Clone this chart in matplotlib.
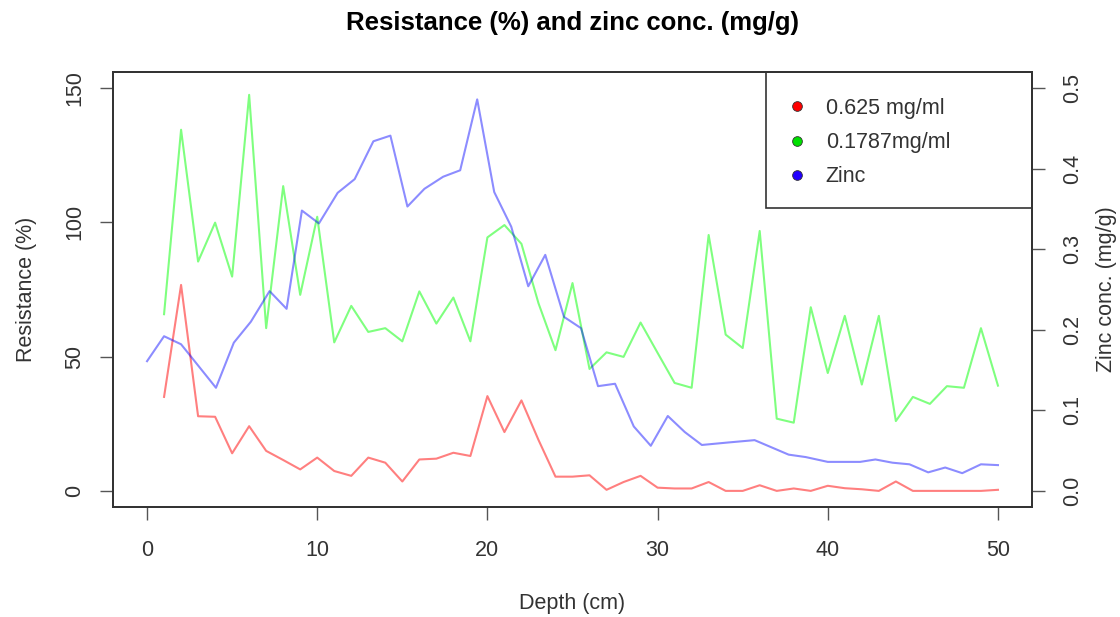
import matplotlib
matplotlib.use("Agg")
import matplotlib.pyplot as plt
from matplotlib.lines import Line2D
from matplotlib.patches import Rectangle

plt.rcParams['font.family'] = ['Liberation Sans', 'DejaVu Sans']

# ---- data ----
depth_res = list(range(1, 51))
res_0625 = [35.0, 76.7, 27.8, 27.6, 14.0, 24.1, 14.9, 11.5, 8.0, 12.4,
            7.4, 5.6, 12.4, 10.5, 3.5, 11.7, 12.0, 14.2, 13.0, 35.3,
            21.9, 33.7, 19.0, 5.3, 5.3, 5.8, 0.4, 3.3, 5.6, 1.2,
            0.9, 0.9, 3.3, 0.0, 0.0, 2.1, 0.0, 0.9, 0.0, 1.9,
            1.0, 0.6, 0.0, 3.5, 0.0, 0.0, 0.0, 0.0, 0.0, 0.4]
res_01787 = [65.8, 134.5, 85.4, 99.9, 79.8, 147.5, 60.6, 113.5, 73.0, 102.1,
             55.3, 68.9, 59.2, 60.6, 55.7, 74.3, 62.3, 72.0, 55.7, 94.4,
             99.0, 92.0, 69.9, 52.4, 77.4, 45.4, 51.6, 49.9, 62.7, 51.4,
             40.2, 38.4, 95.3, 58.2, 53.2, 96.8, 26.9, 25.4, 68.4, 43.9,
             65.2, 39.6, 65.2, 26.0, 35.0, 32.4, 39.0, 38.4, 60.6, 39.2]
depth_zinc = [0, 1, 2, 4.05, 5.1, 6.1, 7.2, 8.2, 9.1, 10.1,
              11.2, 12.2, 13.3, 14.3, 15.3, 16.3, 17.4, 18.4, 19.4, 20.4,
              21.4, 22.4, 23.4, 24.5, 25.5, 26.5, 27.5, 28.6, 29.6, 30.6,
              31.6, 32.6, 34.1, 35.7, 37.7, 38.7, 40.0, 41.0, 41.9, 42.8,
              43.8, 44.8, 45.9, 46.9, 47.9, 49.0, 50.0]
zinc = [0.161, 0.192, 0.182, 0.128, 0.184, 0.210, 0.248, 0.226, 0.348, 0.332,
        0.370, 0.387, 0.434, 0.441, 0.353, 0.375, 0.390, 0.398, 0.486, 0.371,
        0.328, 0.254, 0.293, 0.216, 0.202, 0.130, 0.133, 0.080, 0.056, 0.093,
        0.073, 0.057, 0.060, 0.063, 0.045, 0.042, 0.036, 0.036, 0.036, 0.039,
        0.035, 0.033, 0.023, 0.029, 0.022, 0.033, 0.032]

x_ticks = [0, 10, 20, 30, 40, 50]
res_ticks = [0, 50, 100, 150]
zinc_ticks = [0.0, 0.1, 0.2, 0.3, 0.4, 0.5]
zinc_tick_labels = ["0.0", "0.1", "0.2", "0.3", "0.4", "0.5"]
legend_labels = ["0.625 mg/ml", "0.1787mg/ml", "Zinc"]

# ---- style ----
W, H = 1120, 617
FS = 15.5
TXT = '#333333'
BOX = '#333333'
fig = plt.figure(figsize=(W / 100, H / 100), dpi=100)
L, R, T, B = 113, 1032, 72, 507
ax = fig.add_axes([L / W, 1 - B / H, (R - L) / W, (B - T) / H])
ax2 = ax.twinx()

ax.plot(depth_res, res_0625, color=(1, 0, 0, 0.5), lw=1.5)
ax.plot(depth_res, res_01787, color=(0, 1, 0, 0.5), lw=1.5)
ax2.plot(depth_zinc, zinc, color=(0, 0, 1, 0.45), lw=1.5)

ax.set_xlim(-2, 52)
ax.set_ylim(-6, 156)
ax2.set_ylim(-0.02, 0.52)

for a in (ax, ax2):
    for s in a.spines.values():
        s.set_color(BOX)
        s.set_linewidth(1.3)
    a.tick_params(direction='out', length=9.5, width=1, color='#555555',
                  labelsize=FS, labelcolor=TXT)

ax.set_xticks(x_ticks)
ax.set_yticks(res_ticks)
ax.set_yticklabels([str(v) for v in res_ticks], rotation=90, va='center')
ax2.set_yticks(zinc_ticks)
ax2.set_yticklabels(zinc_tick_labels, rotation=90, va='center')
ax.tick_params(axis='x', pad=14.5)
ax.tick_params(axis='y', pad=10.3)
ax2.tick_params(axis='y', pad=12.5)

ax.set_xlabel("Depth (cm)", fontsize=FS, color=TXT, labelpad=23)
ax.set_ylabel("Resistance (%)", fontsize=FS, color=TXT, labelpad=19.5)
ax2.set_ylabel("Zinc conc. (mg/g)", fontsize=FS, color=TXT, labelpad=9)
fig.text(572 / W, 1 - 23 / H, "Resistance (%) and zinc conc. (mg/g)",
         ha='center', va='center', fontsize=18.5, fontweight='bold', color='black')

# legend box (R style, top-right)
rx0 = (766 - L) / (R - L)
ry0 = (B - 208) / (B - T)
ax2.add_patch(Rectangle((rx0, ry0), 1 - rx0, 1 - ry0, transform=ax2.transAxes,
                        fill=False, edgecolor=BOX, lw=1.2, zorder=5, clip_on=False))
handles = [Line2D([], [], ls='none', marker='o', markersize=7,
                  markerfacecolor=c, markeredgecolor='#333333', markeredgewidth=0.6)
           for c in ('#ff0000', '#00e000', '#2200ff')]
ax2.legend(handles, legend_labels, loc='upper left',
           bbox_to_anchor=((786 - L) / (R - L), (B - 98) / (B - T)),
           frameon=False, fontsize=FS, handlelength=1.0, handletextpad=0.85,
           labelspacing=0.61, borderpad=0, borderaxespad=0, labelcolor=TXT)

fig.savefig("out.png", dpi=100)
